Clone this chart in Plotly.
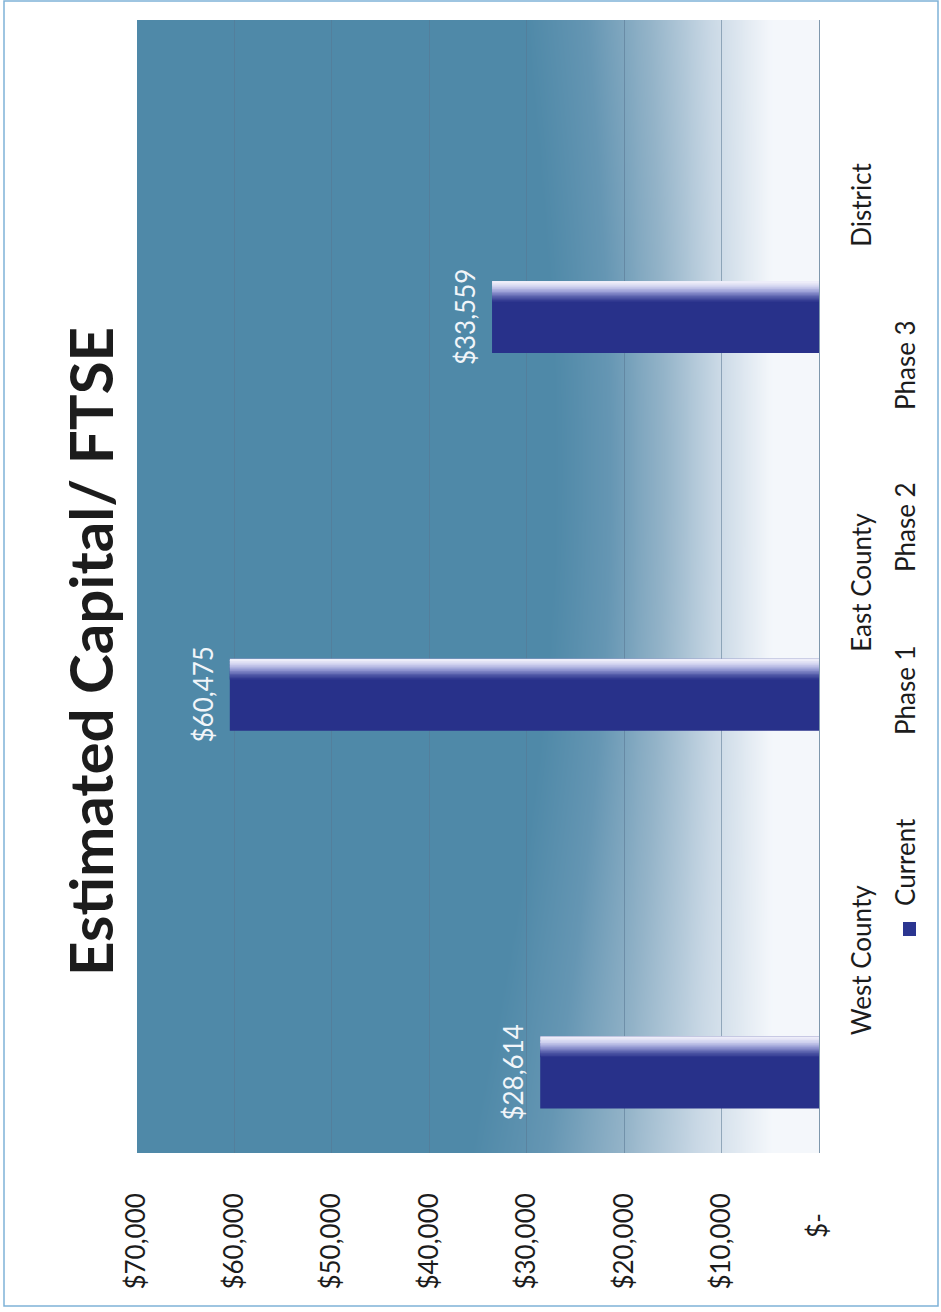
import numpy as np
import plotly.graph_objects as go

# ---- data -------------------------------------------------------------
regions = ["West County", "East County", "District"]
series_names = ["Current", "Phase 1", "Phase 2", "Phase 3"]
current = [28614, 60475, 33559]
phase_1 = [None, None, None]
phase_2 = [None, None, None]
phase_3 = [None, None, None]
value_ticks = [0, 10000, 20000, 30000, 40000, 50000, 60000, 70000]
value_tick_text = ["$-\u00a0\u00a0\u00a0", "$10,000", "$20,000", "$30,000",
                   "$40,000", "$50,000", "$60,000", "$70,000"]

# ---- page geometry (pixels) --------------------------------------------
W, H = 941, 1312
PX0, PX1, PY0, PY1 = 137, 819, 20, 1153   # plot area: left, right, top, bottom


def px(x):
    return (x - PX0) / (PX1 - PX0)


def py(y):
    return (PY1 - y) / (PY1 - PY0)


FONT = "Lato, 'Open Sans', sans-serif"
INK = "#1c1c1c"
NAVY = "#28318a"

fig = go.Figure()

# ---- shaded plot background (teal fading to white towards zero) -------
gx = np.linspace(0, 1, 140)
gy = np.linspace(0, 1, 70)
U, Y = np.meshgrid(gx, gy)
V = 1 - Y                                   # 0 at top of the page, 1 at bottom
fade_start = 0.57 + 0.08 * np.sin(np.pi * V) - 0.08 * V
fade_end = 0.93
shade = np.clip((U - fade_start) / (fade_end - fade_start), 0, 1)
fig.add_trace(go.Heatmap(
    x=gx, y=gy, z=shade, zmin=0, zmax=1, zsmooth="best", showscale=False,
    hoverinfo="skip",
    colorscale=[[0.0, "#4f89a8"], [0.25, "#6596b3"], [0.5, "#93b3c8"],
                [0.75, "#c9d8e5"], [1.0, "#f4f7fb"]],
    xaxis="x", yaxis="y",
))

# ---- bars ---------------------------------------------------------------
slot = (1 - 0.236) / len(series_names)      # width of one bar inside a group
group_start = -slot * len(series_names) / 2

series_values = [current, phase_1, phase_2, phase_3]
for k, (name, vals) in enumerate(zip(series_names, series_values)):
    fig.add_trace(go.Bar(
        x=vals, y=regions, orientation="h", name=name,
        width=slot, offset=group_start + k * slot,
        marker=dict(color=NAVY, line=dict(width=0)),
        showlegend=False, hoverinfo="x+y",
        xaxis="x2", yaxis="y2",
    ))

# light sheen along the upper edge of the Current bars
sheen_stops = [(0.00, (242, 242, 251)), (0.07, (206, 208, 238)),
               (0.14, (150, 155, 212)), (0.21, (86, 94, 170)),
               (0.28, (40, 49, 138))]


def sheen_color(f):
    for (f0, c0), (f1, c1) in zip(sheen_stops[:-1], sheen_stops[1:]):
        if f <= f1:
            t = (f - f0) / (f1 - f0)
            return "rgb(%d,%d,%d)" % tuple(round(a + (b - a) * t) for a, b in zip(c0, c1))
    return "rgb(%d,%d,%d)" % sheen_stops[-1][1]


n_slices = 14
upper_edge = group_start + slot
band = 0.28 * slot
h = band / n_slices
for k in reversed(range(n_slices)):
    fig.add_trace(go.Bar(
        x=current, y=regions, orientation="h",
        width=h * 1.6, offset=upper_edge - (k + 1) * h - 0.6 * h if k else upper_edge - h * 1.6,
        marker=dict(color=sheen_color((k + 0.5) / n_slices * 0.28), line=dict(width=0)),
        showlegend=False, hoverinfo="skip",
        xaxis="x2", yaxis="y2",
    ))

# value labels just beyond the end of each Current bar
annotations = []
bar_center = group_start + slot / 2
for i, v in enumerate(current):
    annotations.append(dict(
        x=v, y=i + bar_center, xref="x2", yref="y2",
        text="$%s" % format(v, ","), showarrow=False, textangle=-90,
        xanchor="center", yanchor="middle", xshift=-27,
        font=dict(family=FONT, size=26, color="#f1f5f9"),
    ))

# title
annotations.append(dict(
    x=px(90), y=py(652), xref="paper", yref="paper",
    text="<b>Estimated Capital/ FTSE</b>", showarrow=False, textangle=-90,
    xanchor="center", yanchor="middle",
    font=dict(family=FONT, size=60, color=INK),
))

# legend
legend_centers = [862, 690, 527, 365]
for name, yc in zip(series_names, legend_centers):
    annotations.append(dict(
        x=px(905), y=py(yc), xref="paper", yref="paper",
        text=name, showarrow=False, textangle=-90,
        xanchor="center", yanchor="middle",
        font=dict(family=FONT, size=26, color=INK),
    ))

shapes = [
    # legend key for Current
    dict(type="rect", xref="paper", yref="paper", layer="above",
         x0=px(903), x1=px(916), y0=py(936), y1=py(922),
         fillcolor="#2b3590", line=dict(width=0)),
    # page border
    dict(type="rect", xref="paper", yref="paper", layer="above",
         x0=px(4), x1=px(938), y0=py(1306), y1=py(1),
         fillcolor="rgba(0,0,0,0)", line=dict(color="#7fb2d8", width=1.5)),
]

fig.update_layout(
    width=W, height=H,
    margin=dict(l=PX0, r=W - PX1, t=PY0, b=H - PY1, pad=0),
    paper_bgcolor="white", plot_bgcolor="rgba(0,0,0,0)",
    barmode="overlay", showlegend=False,
    font=dict(family=FONT, color=INK),
    xaxis=dict(domain=[0, 1], range=[0, 1], visible=False, fixedrange=True),
    yaxis=dict(domain=[0, 1], range=[0, 1], visible=False, fixedrange=True, anchor="x"),
    xaxis2=dict(
        domain=[0, 1], anchor="y2", range=[70000, 0], side="bottom",
        tickvals=value_ticks, ticktext=value_tick_text, tickangle=-90,
        tickfont=dict(family=FONT, size=26, color=INK),
        showgrid=True, gridcolor="rgba(88,118,145,0.55)", gridwidth=1,
        zeroline=False, showline=False, ticks="", ticklabelstandoff=34,
    ),
    yaxis2=dict(
        domain=[0, 1], anchor="x2", type="category",
        categoryorder="array", categoryarray=regions, range=[-0.5, 2.5],
        side="right", tickangle=-90,
        tickfont=dict(family=FONT, size=26, color=INK),
        showgrid=False, zeroline=False, showline=True,
        linecolor="#7f98ad", linewidth=1, ticks="", ticklabelstandoff=20,
    ),
    annotations=annotations, shapes=shapes,
)

fig.write_html("out.html")
